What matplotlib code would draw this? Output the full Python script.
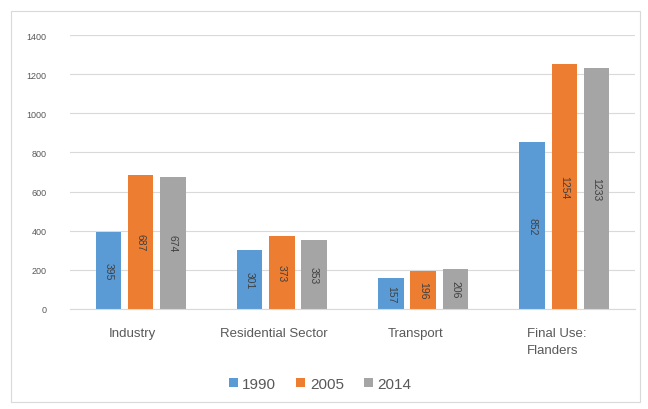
import numpy as np
import matplotlib
matplotlib.use("Agg")
from matplotlib import pyplot as plt
from matplotlib.patches import Rectangle
import matplotlib.transforms as mtransforms

# final energy use per sector (PJ)
categories = ["Industry", "Residential Sector", "Transport", "Final Use:\nFlanders"]
years = ["1990", "2005", "2014"]
v1990 = [395, 301, 157, 852]
v2005 = [687, 373, 196, 1254]
v2014 = [674, 353, 206, 1233]
colors = ["#5B9BD5", "#ED7D31", "#A5A5A5"]

plt.rcParams['font.family'] = ['Liberation Sans', 'DejaVu Sans']

fig = plt.figure(figsize=(6.48, 4.10), dpi=100)
fig.patches.append(Rectangle((11/648, 1-403/410), 629/648, 391/410,
                             transform=fig.transFigure, fill=False,
                             edgecolor="#D9D9D9", linewidth=0.8))
ax = fig.add_axes([70/648, 1-310/410, 565/648, 274/410])

x = np.arange(len(categories))
width = 0.18
offsets = [-0.228, 0.0, 0.228]
series = [v1990, v2005, v2014]

for off, vals, col, yr in zip(offsets, series, colors, years):
    bars = ax.bar(x + off, vals, width, color=col, label=yr, zorder=2)
    for b, v in zip(bars, vals):
        ax.text(b.get_x() + b.get_width()/2, v/2, str(v), rotation=-90,
                ha="center", va="center", fontsize=7.5, color="#404040", zorder=3)

ax.set_xlim(-0.5, 3.5)
ax.set_ylim(0, 1400)
ax.set_yticks(range(0, 1401, 200))
ax.yaxis.grid(True, color="#D9D9D9", linewidth=0.8, zorder=0)
ax.set_axisbelow(True)
for s in ["top", "right", "left"]:
    ax.spines[s].set_visible(False)
ax.spines["bottom"].set_color("#D9D9D9")
ax.tick_params(axis="y", length=0, pad=17, labelsize=6.5, labelcolor="#595959")
ax.tick_params(axis="x", length=0, pad=13, labelsize=9.5, labelcolor="#595959")
ax.set_xticks(x)
ax.set_xticklabels(categories, linespacing=1.5)
for lab in ax.get_xticklabels():
    lab.set_multialignment("left")
    lab.set_transform(lab.get_transform() +
                      mtransforms.ScaledTranslation(-8/100, 0, fig.dpi_scale_trans))

fig.legend(loc="center", bbox_to_anchor=(320/648, 1-385/410), ncol=3, frameon=False,
           fontsize=11, labelcolor="#595959", handlelength=0.6, handleheight=0.6,
           handletextpad=0.3, columnspacing=1.3)

fig.savefig("out.png", dpi=100)
